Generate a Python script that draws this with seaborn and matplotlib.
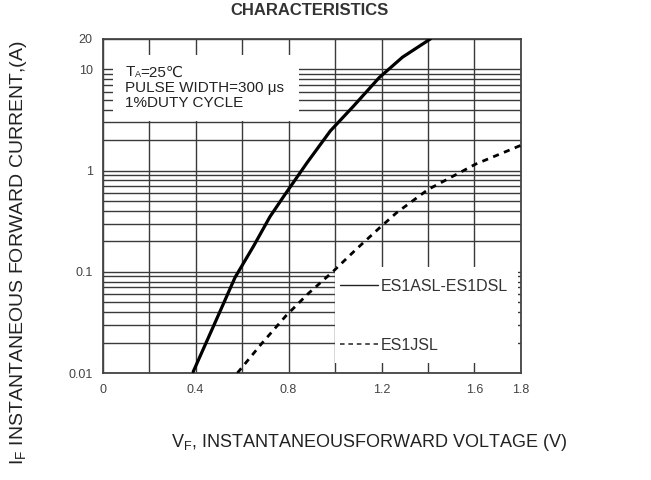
import matplotlib
matplotlib.use("Agg")
import matplotlib.pyplot as plt
import matplotlib.ticker as mticker
from matplotlib.patches import Rectangle
from matplotlib.lines import Line2D
import seaborn as sns
import pandas as pd
import numpy as np

# ---- data ----
vf_a = [0.39, 0.48, 0.57, 0.65, 0.72, 0.78, 0.88, 0.98, 1.08, 1.19, 1.29, 1.41]
if_a = [0.0103, 0.030, 0.088, 0.180, 0.350, 0.56, 1.20, 2.47, 4.35, 8.3, 13.2, 20.0]
vf_j = [0.58, 0.685, 0.79, 0.885, 0.99, 1.09, 1.19, 1.265, 1.40, 1.605, 1.80]
if_j = [0.010, 0.0196, 0.037, 0.061, 0.100, 0.166, 0.270, 0.384, 0.65, 1.16, 1.78]
label_a = "ES1ASL-ES1DSL"
label_j = "ES1JSL"
x_ticks = [0, 0.4, 0.8, 1.2, 1.6, 1.8]
x_tick_labels = ["0", "0.4", "0.8", "1.2", "1.6", "1.8"]
y_ticks = [0.01, 0.1, 1, 10, 20]
y_tick_labels = ["0.01", "0.1", "1", "10", "20"]

sns.set_theme(style="white")
plt.rcParams['font.family'] = ['Liberation Sans', 'DejaVu Sans']
plt.rcParams['mathtext.fontset'] = 'custom'
plt.rcParams['mathtext.rm'] = 'Liberation Sans'
plt.rcParams['mathtext.it'] = 'Liberation Sans'

df = pd.concat([
    pd.DataFrame({"V": vf_a, "I": if_a, "s": label_a}),
    pd.DataFrame({"V": vf_j, "I": if_j, "s": label_j}),
])

fig = plt.figure(figsize=(6.51, 4.80), dpi=100)
ax = fig.add_axes([0.1575, 0.2229, 0.6428, 0.6959])

grid_c = "#3a3a3a"
sns.lineplot(data=df[df.s == label_a], x="V", y="I", ax=ax, color="black",
             lw=2.3, zorder=4, legend=False)
sns.lineplot(data=df[df.s == label_j], x="V", y="I", ax=ax, color="black",
             lw=2.0, zorder=4, legend=False, linestyle=(0, (2.2, 2.0)))

ax.set_yscale("log")
ax.set_xlim(0, 1.8)
ax.set_ylim(0.01, 20)

xpos = list(np.round(np.arange(0, 1.81, 0.2), 1))
ax.set_xticks(xpos)
ax.set_xticklabels([x_tick_labels[x_ticks.index(v)] if v in x_ticks else ""
                    for v in xpos])
ax.set_yticks(y_ticks)
ax.set_yticklabels(y_tick_labels)
ax.yaxis.set_minor_locator(mticker.LogLocator(base=10, subs=range(2, 10)))
ax.yaxis.set_minor_formatter(mticker.NullFormatter())

ax.set_axisbelow(True)
ax.grid(True, axis="x", which="major", color=grid_c, lw=1.0)
ax.grid(True, axis="y", which="both", color=grid_c, lw=1.0)
ax.tick_params(axis="both", which="both", length=0, labelsize=9,
               labelcolor="#444444")
ax.tick_params(axis="x", pad=8)
ax.tick_params(axis="y", pad=7)
for sp in ax.spines.values():
    sp.set_color("#444444")
    sp.set_linewidth(1.3)
ax.set_xlabel("")
ax.set_ylabel("")

# white boxes that hide the grid behind the annotations
ax.add_patch(Rectangle((0.025, 0.755), 0.445, 0.197, transform=ax.transAxes,
                       facecolor="white", edgecolor="none", zorder=1))
ax.add_patch(Rectangle((0.556, 0.03), 0.437, 0.287, transform=ax.transAxes,
                       facecolor="white", edgecolor="none", zorder=1))

# condition text
tc = "#222222"
fs_box = 11
t1 = ax.text(0.054, 0.8997, "T", transform=ax.transAxes, fontsize=fs_box,
             color=tc, va="center", ha="left", zorder=3)
t2 = ax.annotate("A", xy=(1, 0.05), xycoords=t1, fontsize=6.5, color=tc,
                 va="bottom", ha="left", zorder=3)
t3 = ax.annotate("=25\u2103", xy=(1, 0), xycoords=(t2, t1), fontsize=fs_box,
                 color=tc, va="bottom", ha="left", zorder=3)
ax.text(0.054, 0.8518, "PULSE WIDTH=300 \u03bcs", transform=ax.transAxes,
        fontsize=fs_box, color=tc, va="center", ha="left", zorder=3)
ax.text(0.054, 0.8084, "1%DUTY CYCLE", transform=ax.transAxes,
        fontsize=fs_box, color=tc, va="center", ha="left", zorder=3)

handles = [Line2D([], [], color="#222222", lw=1.0, linestyle="-"),
           Line2D([], [], color="#222222", lw=1.1, linestyle=(0, (3, 2.5)))]
ax.legend(handles, [label_a, label_j], loc="center left",
          bbox_to_anchor=(0.5675, 0.171), frameon=False, fontsize=11.5,
          handlelength=2.4, handletextpad=0.15, labelspacing=2.75,
          borderpad=0, borderaxespad=0, labelcolor="#333333")

fig.text(0.476, 0.979, "CHARACTERISTICS", ha="center", va="center",
         fontsize=12, fontweight="bold", color="#333333")
fig.text(0.567, 0.079, "V$_{\\mathrm{F}}$, INSTANTANEOUSFORWARD VOLTAGE (V)",
         ha="center", va="center", fontsize=13, color="#222222")
fig.text(0.028, 0.474, "I$_{\\mathrm{F}}$ INSTANTANEOUS FORWARD CURRENT,(A)",
         ha="center", va="center", rotation=90, fontsize=14, color="#222222")

fig.savefig("out.png", dpi=100)
